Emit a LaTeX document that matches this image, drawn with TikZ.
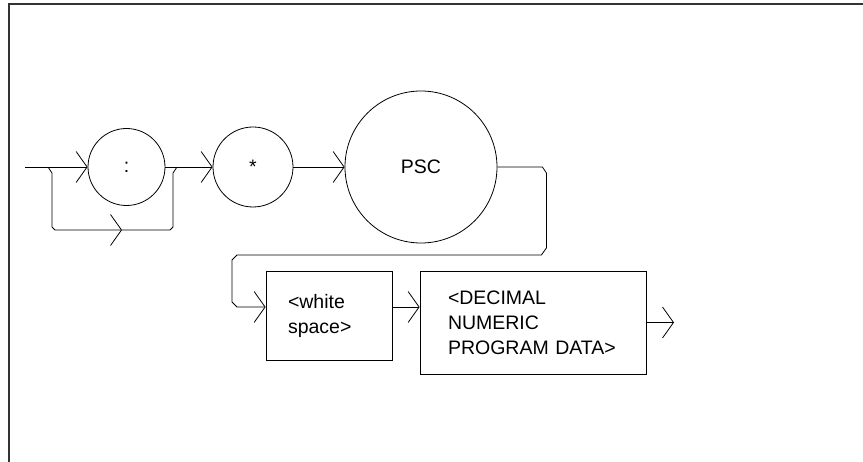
\documentclass[tikz,border=0pt]{standalone}
\usepackage{fontspec}
\setmainfont{Liberation Sans}
\usepackage{tikz}
\usetikzlibrary{arrows.meta}

\begin{document}
\begin{tikzpicture}[x=1pt, y=-1pt, line width=0.8pt,
	every node/.style={font=\fontsize{19.5}{25}\selectfont, inner sep=0pt},
	>={Straight Barb[length=11pt, width=31pt]},
	elem/.style={draw, circle},
	field/.style={draw, rectangle, align=left}]
	\useasboundingbox (0,0) rectangle (863,462);
	% frame
	\draw[line width=1.3pt, black!80] (863,4) -- (9,4) -- (9,462);
	% first row
	\node[elem, minimum size=77pt] (colon) at (126.5,167) {:};
	\node[elem, minimum size=80pt] (star) at (253,167) {*};
	\node[elem, minimum size=152pt] (psc) at (421,167) {PSC};
	% second row
	\node[field, text width=82pt, inner xsep=22pt, minimum height=89pt] (white) at (329,315.5) {<white\\space>};
	\node[field, text width=170pt, inner xsep=28pt, minimum height=103pt] (decimal) at (533,322.5) {<DECIMAL\\NUMERIC\\PROGRAM DATA>};
	\coordinate (start) at (25,167);
	\coordinate (split) at (48,167);
	\coordinate (join) at (177,167);
	\coordinate (bypass) at (122,230);
	\coordinate (row2) at (0,307);
	\coordinate (exit) at (674,322.5);
	% connectors
	\draw[->] (start) -- (colon);
	\draw[->] (split) -- ++(4,6) -- ++(0,54) -- ++(3,3) -- (bypass);
	\draw (bypass) -- ++(48,0) -- ++(3,-3) -- ++(0,-54) -- (join);
	\draw[->] (colon) -- (star);
	\draw[->] (star) -- (psc);
	\draw[->] (psc.east) -- ++(45,0) -- ++(4,6) -- ++(0,75) -- ++(-5,7) -- (237,255) -- ++(-5,5) -- ++(0,42) -- ++(5,5) -- (white.west |- row2);
	\draw[->] (white.east |- row2) -- (decimal.west |- row2);
	\draw[->] (decimal) -- (exit);
\end{tikzpicture}
\end{document}
